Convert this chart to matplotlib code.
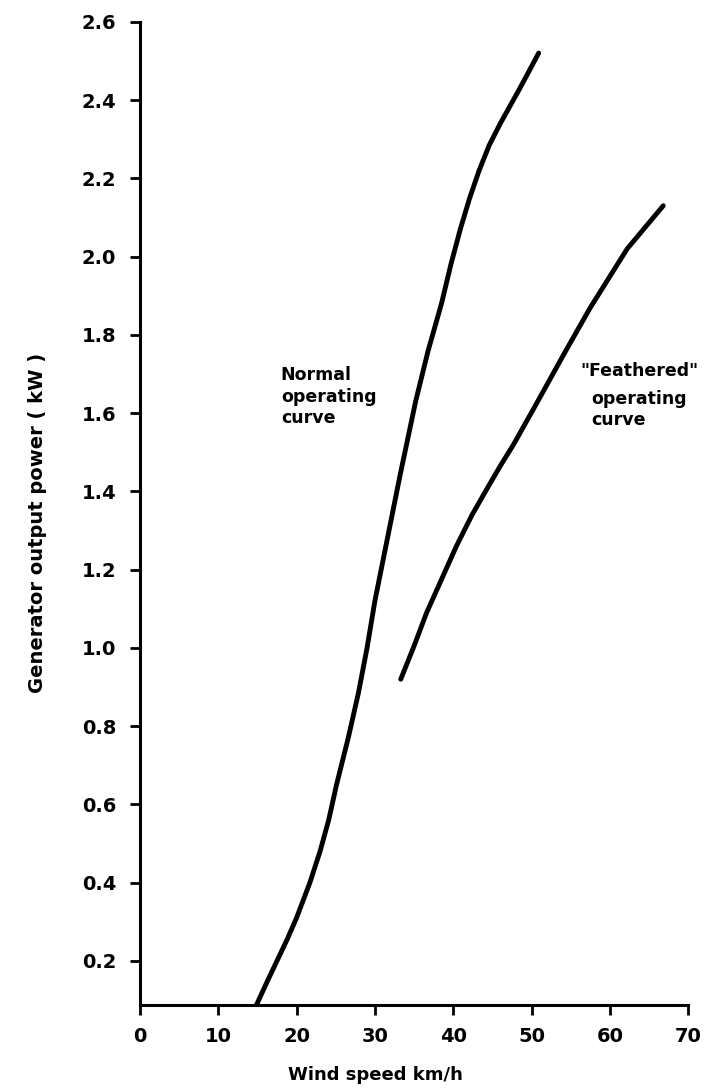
import numpy as np
import matplotlib.pyplot as plt

# normal operating curve
normal_speed = [14.9, 16.2, 17.5, 18.8, 20.0, 21.7, 23.0, 24.1, 25.1, 26.6, 27.9, 29.0,
                30.0, 31.7, 33.2, 35.2, 36.8, 38.5, 39.7, 40.9, 42.1, 43.3, 44.6,
                46.0, 48.5, 50.9]
normal_power = [0.088, 0.145, 0.20, 0.255, 0.31, 0.40, 0.48, 0.56, 0.65, 0.77, 0.885, 1.00,
                1.12, 1.29, 1.44, 1.63, 1.76, 1.88, 1.98, 2.07, 2.15, 2.22, 2.285,
                2.34, 2.43, 2.52]

# "feathered" operating curve
feather_speed = [33.3, 35.0, 36.6, 38.5, 40.4, 42.4, 44.4, 46.0, 47.7, 50.5, 54.1,
                 57.5, 62.2, 66.8]
feather_power = [0.92, 1.005, 1.09, 1.175, 1.26, 1.34, 1.41, 1.465, 1.52, 1.62, 1.75,
                 1.87, 2.02, 2.13]

xticks = [0, 10, 20, 30, 40, 50, 60, 70]
yticks = [0.2, 0.4, 0.6, 0.8, 1.0, 1.2, 1.4, 1.6, 1.8, 2.0, 2.2, 2.4, 2.6]

plt.rcParams['font.family'] = ['DejaVu Sans']
plt.rcParams['font.weight'] = 'bold'

fig = plt.figure(figsize=(7.17, 10.91), dpi=100)
ax = fig.add_axes([0.195, 0.079, 0.765, 0.901])

ax.plot(normal_speed, normal_power, color='black', lw=3.5,
        solid_capstyle='round', solid_joinstyle='round')
ax.plot(feather_speed, feather_power, color='black', lw=3.5,
        solid_capstyle='round', solid_joinstyle='round')

ax.set_xlim(0, 70)
ax.set_ylim(0.088, 2.6)
ax.set_xticks(xticks)
ax.set_xticklabels([str(v) for v in xticks])
ax.set_yticks(yticks)
ax.set_yticklabels([f'{v:.1f}' for v in yticks])

for side in ['top', 'right']:
    ax.spines[side].set_visible(False)
for side in ['left', 'bottom']:
    ax.spines[side].set_linewidth(2.2)
ax.tick_params(axis='both', direction='out', width=2, length=7, labelsize=14)
ax.tick_params(axis='y', pad=10)
ax.tick_params(axis='x', pad=9)

ax.set_xlabel('Wind speed km/h', fontsize=13, fontweight='bold')
ax.set_ylabel('Generator output power ( kW )', fontsize=14, fontweight='bold')
ax.xaxis.set_label_coords(0.43, -0.062)
ax.yaxis.set_label_coords(-0.17, 0.49)

ax.text(18.0, 1.72, 'Normal\noperating\ncurve', fontsize=12.5, fontweight='bold',
        ha='left', va='top', linespacing=1.25)
ax.text(56.2, 1.73, '"Feathered"', fontsize=12.5, fontweight='bold', ha='left', va='top')
ax.text(57.6, 1.66, 'operating\ncurve', fontsize=12.5, fontweight='bold',
        ha='left', va='top', linespacing=1.25)

plt.savefig('out.png', dpi=100)
